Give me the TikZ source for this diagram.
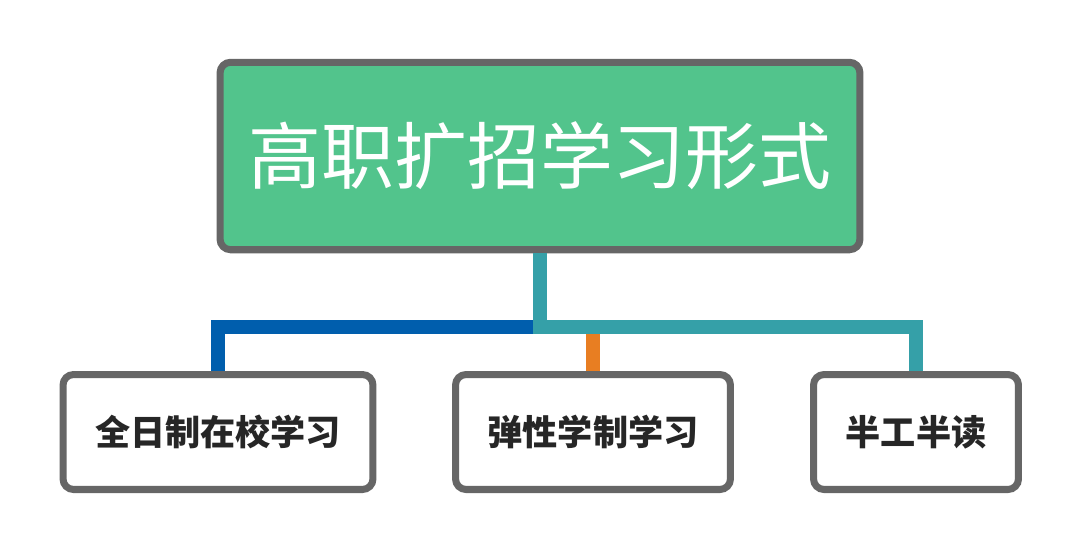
\documentclass[tikz,border=0pt]{standalone}
\usepackage{fontspec}
\newfontfamily\cjk{Noto Sans CJK SC}
\definecolor{topgreen}{HTML}{52C48C}
\definecolor{boxgray}{HTML}{666666}
\definecolor{lineteal}{HTML}{35A0A8}
\definecolor{lineblue}{HTML}{005EAD}
\definecolor{lineorange}{HTML}{E87E22}
\definecolor{leaftext}{HTML}{262626}
\begin{document}
\begin{tikzpicture}[x=0.02cm,y=-0.02cm]
        \useasboundingbox (0,0) rectangle (1080,549);
        \tikzset{
            topbox/.style={draw=boxgray,line width=4pt,rounded corners=6pt,fill=topgreen,
                minimum width=12.8cm,minimum height=3.75cm,text=white,font=\cjk\fontsize{41.5}{50}\selectfont},
            leafbox/.style={draw=boxgray,line width=4pt,rounded corners=6pt,fill=white,text=leaftext,
                minimum height=2.3cm,font=\cjk\bfseries\fontsize{20}{24}\selectfont},
            link/.style={line width=8pt}
        }
        \node[topbox] (top) at (540,156) {高职扩招学习形式};

        \node[leafbox,minimum width=6.2cm] (full) at (218,432) {全日制在校学习};
        \node[leafbox,minimum width=5.5cm] (flex) at (593,432) {弹性学制学习};
        \node[leafbox,minimum width=4.1cm] (half) at (916,432) {半工半读};

        \coordinate (mid) at (540,327);
        \draw[link,lineblue] (mid) -| (full.north);
        \draw[link,lineorange] (593,331) -- (flex.north);
        \draw[link,lineteal] (top.south) -- (mid) -| (half.north);
    \end{tikzpicture}
\end{document}
